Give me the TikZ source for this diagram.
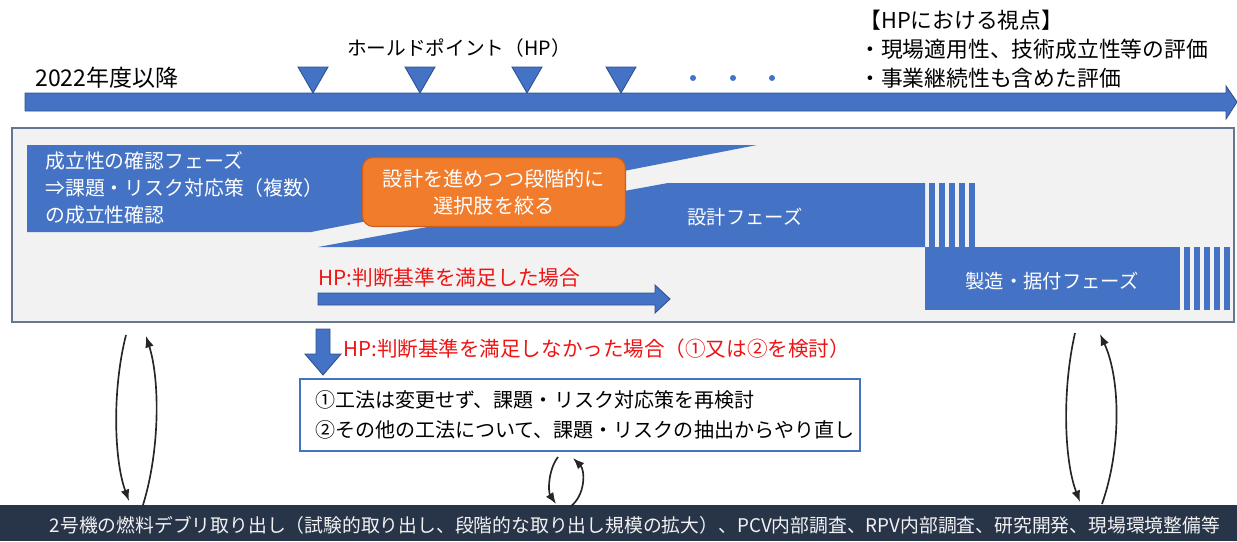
\documentclass[tikz,border=0pt]{standalone}
\usepackage{fontspec}
\setmainfont{Noto Sans CJK JP}
\definecolor{phaseblue}{RGB}{68,114,196}
\definecolor{edgeblue}{RGB}{47,82,143}
\definecolor{panelgray}{RGB}{242,242,242}
\definecolor{panelline}{RGB}{100,118,146}
\definecolor{hporange}{RGB}{240,124,44}
\definecolor{hporangedark}{RGB}{205,95,25}
\definecolor{hpred}{RGB}{238,20,20}
\definecolor{basenavy}{RGB}{40,52,72}
\definecolor{loopgray}{RGB}{38,38,38}
\usetikzlibrary{arrows.meta,positioning}

\begin{document}
\begin{tikzpicture}[x=0.02cm,y=-0.02cm,
    txt/.style={inner sep=0pt},
    phasetxt/.style={txt,text=white},
    redtxt/.style={txt,text=hpred},
    blockarrow/.style={fill=phaseblue,draw=edgeblue,line width=0.5pt},
    loop/.style={loopgray,line width=0.95pt,-{Latex[length=6.5pt,width=5pt]}}]
    \useasboundingbox (0,0) rectangle (1237,541);

    % Timeline
    \draw[blockarrow] (25,93) -- (1226,93) -- (1226,86) -- (1237,102) -- (1226,119) -- (1226,111) -- (25,111) -- cycle;
    \node[txt,anchor=west,font=\fontsize{13.1}{15}\selectfont] (since) at (35,78) {2022年度以降};
    \node[txt,font=\fontsize{11.2}{13}\selectfont] (hplabel) at (459,48) {ホールドポイント（HP）};
    \foreach \x in {313,420,527,621}
        \draw[blockarrow] (\x-15,67) -- (\x+15,67) -- (\x,93) -- cycle;
    \foreach \x in {693,733,772}
        \fill[phaseblue] (\x,78) circle (3);
    \node[txt,anchor=west,align=left,font=\fontsize{12.4}{16.5}\selectfont] (viewpoint) at (859,49)
        {【HPにおける視点】\\・現場適用性、技術成立性等の評価\\・事業継続性も含めた評価};

    % Phases
    \draw[panelline,line width=1.1pt,fill=panelgray] (12,128) rectangle (1234,322);
    \fill[phaseblue] (27,145) -- (757,145) -- (311,232) -- (27,232) -- cycle;
    \fill[phaseblue] (318,247) -- (668,183) -- (925,183) -- (925,247) -- cycle;
    \foreach \k in {0,...,4}
        \fill[phaseblue] (929+10*\k,183) rectangle (935+10*\k,247);
    \fill[phaseblue] (925,247) rectangle (1180,310);
    \foreach \k in {0,...,4}
        \fill[phaseblue] (1184+10*\k,247) rectangle (1190+10*\k,310);
    \node[phasetxt,anchor=west,align=left,font=\fontsize{11.3}{15.6}\selectfont] (feasibility) at (45,188)
        {成立性の確認フェーズ\\⇒課題・リスク対応策（複数）\\の成立性確認};
    \node[txt,text=white,fill=hporange,draw=hporangedark,line width=0.6pt,rounded corners=6pt,
        minimum width=5.26cm,minimum height=1.38cm,align=center,font=\fontsize{11.5}{15.4}\selectfont] (narrow) at (494,192)
        {設計を進めつつ段階的に\\選択肢を絞る};
    \node[phasetxt,font=\fontsize{11}{13}\selectfont] (design) at (745,217) {設計フェーズ};
    \node[phasetxt,font=\fontsize{11}{13}\selectfont] (build) at (1052,281) {製造・据付フェーズ};

    % HP outcomes
    \node[redtxt,anchor=west,font=\fontsize{11.8}{14}\selectfont] (okcase) at (318,278) {HP:判断基準を満足した場合};
    \draw[blockarrow] (318,293) -- (655,293) -- (655,285) -- (670,299) -- (655,313) -- (655,305) -- (318,305) -- cycle;
    \draw[blockarrow] (316,329) -- (330,329) -- (330,354) -- (341,354) -- (323,375) -- (305,354) -- (316,354) -- cycle;
    \node[redtxt,anchor=west,font=\fontsize{11.7}{14}\selectfont] (ngcase) at (343,349) {HP:判断基準を満足しなかった場合（①又は②を検討）};
    \node[draw=phaseblue,line width=1.4pt,fill=white,inner xsep=0.3cm,inner ysep=0pt,text width=10.6cm,
        minimum height=1.44cm,align=left,font=\fontsize{11.4}{17}\selectfont] (retry) at (580,415)
        {①工法は変更せず、課題・リスク対応策を再検討\\②その他の工法について、課題・リスクの抽出からやり直し};

    % Base activities
    \fill[basenavy] (0,505) rectangle (1237,541);
    \node[txt,text=panelgray,font=\fontsize{10.7}{13}\selectfont] (base) at (635,525)
        {2号機の燃料デブリ取り出し（試験的取り出し、段階的な取り出し規模の拡大）、PCV内部調査、RPV内部調査、研究開発、現場環境整備等};

    % Feedback loops
    \coordinate (l1) at (126,335); \coordinate (l2) at (129,501);
    \coordinate (l3) at (143,505); \coordinate (l4) at (146,336);
    \draw[loop] (l1) .. controls (112,390) and (114,460) .. (l2);
    \draw[loop] (l3) .. controls (160,450) and (160,380) .. (l4);
    \coordinate (m1) at (558,457); \coordinate (m2) at (556,504);
    \coordinate (m3) at (570,507); \coordinate (m4) at (573,458);
    \draw[loop] (m1) .. controls (548,470) and (548,492) .. (m2);
    \draw[loop] (m3) .. controls (586,495) and (585,470) .. (m4);
    \coordinate (r1) at (1075,333); \coordinate (r2) at (1080,502);
    \coordinate (r3) at (1102,504); \coordinate (r4) at (1100,334);
    \draw[loop] (r1) .. controls (1062,390) and (1064,460) .. (r2);
    \draw[loop] (r3) .. controls (1121,450) and (1121,380) .. (r4);
\end{tikzpicture}
\end{document}
